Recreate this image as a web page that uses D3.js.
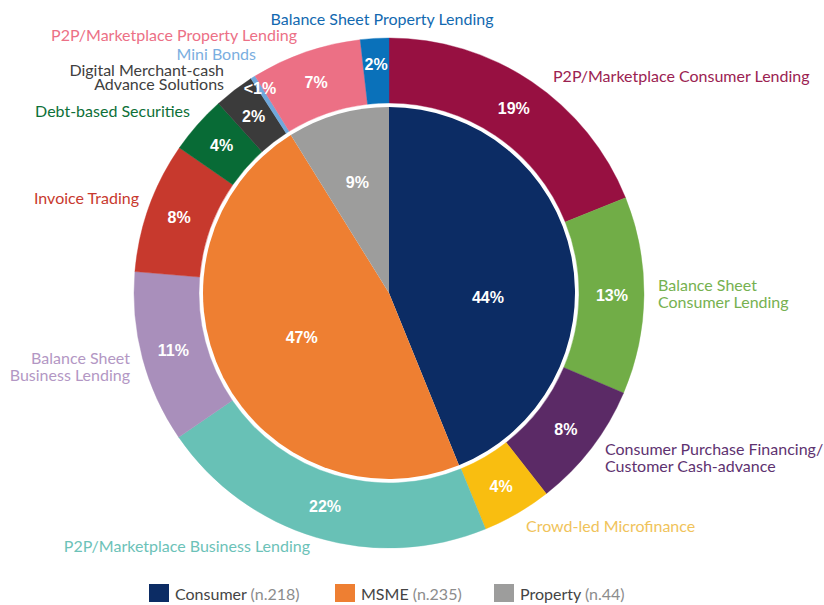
<!DOCTYPE html>
<html>
<head>
<meta charset="utf-8">
<script src="https://cdn.jsdelivr.net/npm/d3@7"></script>
<style>
  body { margin: 0; background: #fff; }
  svg { display: block; }
  .name { font-family: Lato, "Open Sans", sans-serif; font-size: 16px; }
  .pct { font-family: "Liberation Sans", Arial, sans-serif; font-weight: bold; font-size: 16px; fill: #fff; }
  .leg { font-family: Lato, "Open Sans", sans-serif; font-size: 16px; fill: #444; }
  .leg .n { fill: #8c8c8c; }
</style>
</head>
<body>
<svg id="chart"></svg>
<script>
// inner ring: segment groups (from legend counts)
const groupNames = ['Consumer', 'MSME', 'Property'];
const groupCounts = [218, 235, 44];
const groupLabels = ['44%', '47%', '9%'];
const groupColors = ['#0c2c64', '#ee7f32', '#9d9d9c'];

// outer ring: models, clockwise from 12 o'clock
const modelNames = [
  'P2P/Marketplace Consumer Lending',
  'Balance Sheet Consumer Lending',
  'Consumer Purchase Financing/ Customer Cash-advance',
  'Crowd-led Microfinance',
  'P2P/Marketplace Business Lending',
  'Balance Sheet Business Lending',
  'Invoice Trading',
  'Debt-based Securities',
  'Digital Merchant-cash Advance Solutions',
  'Mini Bonds',
  'P2P/Marketplace Property Lending',
  'Balance Sheet Property Lending'
];
const modelShares = [18.9, 12.5, 8.0, 4.4, 21.6, 10.9, 8.3, 3.7, 2.55, 0.3, 7.0, 1.8];
const modelLabels = ['19%', '13%', '8%', '4%', '22%', '11%', '8%', '4%', '2%', '<1%', '7%', '2%'];
const modelColors = ['#971041', '#71ad47', '#5b2a66', '#f9be10', '#68c1b6', '#a98fbb',
                     '#c7392d', '#086b36', '#3b3b3b', '#6fa8dc', '#ec7085', '#0a71ba'];
const nameColors = ['#9b2251', '#76b150', '#5e3270', '#f0c35a', '#6cc2b8', '#b397c4',
                    '#c8392e', '#0d7038', '#404040', '#7aaee0', '#ec7086', '#1269b0'];

const W = 824, H = 605;
const cx = 389, cy = 293;
const rPie = 186, rIn = 190, rOut = 255;

// where the category names sit (x, first baseline, anchor, line break)
const namePos = [
  {x: 553, y: 82, a: 'start', lines: ['P2P/Marketplace Consumer Lending']},
  {x: 658, y: 291, a: 'start', lines: ['Balance Sheet', 'Consumer Lending'], lh: 17},
  {x: 605, y: 455, a: 'start', lines: ['Consumer Purchase Financing/', 'Customer Cash-advance'], lh: 17},
  {x: 526, y: 532, a: 'start', lines: ['Crowd-led Microfinance']},
  {x: 310, y: 552, a: 'end', lines: ['P2P/Marketplace Business Lending']},
  {x: 130, y: 364, a: 'end', lines: ['Balance Sheet', 'Business Lending'], lh: 17},
  {x: 139, y: 204, a: 'end', lines: ['Invoice Trading']},
  {x: 190, y: 117, a: 'end', lines: ['Debt-based Securities']},
  {x: 224, y: 76, a: 'end', lines: ['Digital Merchant-cash', 'Advance Solutions'], lh: 14},
  {x: 256, y: 60, a: 'end', lines: ['Mini Bonds']},
  {x: 297, y: 41, a: 'end', lines: ['P2P/Marketplace Property Lending']},
  {x: 382, y: 25, a: 'middle', lines: ['Balance Sheet Property Lending']}
];

const svg = d3.select('#chart').attr('width', W).attr('height', H);
const g = svg.append('g').attr('transform', `translate(${cx},${cy})`);

const pie = d3.pie().sort(null).value(d => d);

// inner pie
const innerArcs = pie(groupCounts);
const arcInner = d3.arc().innerRadius(0).outerRadius(rPie);
g.selectAll('.inner').data(innerArcs).join('path')
  .attr('class', 'inner')
  .attr('d', arcInner)
  .attr('fill', (d, i) => groupColors[i]);

// outer ring
const outerArcs = pie(modelShares);
const arcOuter = d3.arc().innerRadius(rIn).outerRadius(rOut);
g.selectAll('.outer').data(outerArcs).join('path')
  .attr('class', 'outer')
  .attr('d', arcOuter)
  .attr('fill', (d, i) => modelColors[i])
  .attr('stroke', (d, i) => modelColors[i])
  .attr('stroke-width', 0.4);

// percentage labels
const polar = (a, r) => [Math.sin(a) * r, -Math.cos(a) * r];
const mid = d => (d.startAngle + d.endAngle) / 2;
const innerLabelR = [99, 98, 115];
const innerLabelA = [d => 92.3 * Math.PI / 180, mid, mid];
g.selectAll('.pin').data(innerArcs).join('text')
  .attr('class', 'pct pin')
  .attr('text-anchor', 'middle')
  .attr('dy', '0.36em')
  .attr('transform', (d, i) => `translate(${polar(innerLabelA[i](d), innerLabelR[i])})`)
  .text((d, i) => groupLabels[i]);

const outerLabelR = i => modelLabels[i] === '<1%' ? 242 : (i === 11 ? 229 : 223);
g.selectAll('.pout').data(outerArcs).join('text')
  .attr('class', 'pct pout')
  .attr('text-anchor', 'middle')
  .attr('dy', '0.36em')
  .attr('transform', (d, i) => `translate(${polar(mid(d), outerLabelR(i))})`)
  .text((d, i) => modelLabels[i]);

// category names
namePos.forEach((p, i) => {
  const t = svg.append('text')
    .attr('class', 'name')
    .attr('text-anchor', p.a)
    .attr('fill', nameColors[i]);
  p.lines.forEach((ln, k) => {
    t.append('tspan').attr('x', p.x).attr('y', p.y + k * (p.lh || 16)).text(ln);
  });
});

// legend
const legX = [149, 335, 494];
const legend = svg.append('g');
groupNames.forEach((n, i) => {
  legend.append('rect')
    .attr('x', legX[i]).attr('y', 584).attr('width', 20).attr('height', 18)
    .attr('fill', groupColors[i]);
  const t = legend.append('text').attr('class', 'leg')
    .attr('x', legX[i] + 26).attr('y', 600);
  t.append('tspan').text(n + ' ');
  t.append('tspan').attr('class', 'n').text(`(n.${groupCounts[i]})`);
});
</script>
</body>
</html>
